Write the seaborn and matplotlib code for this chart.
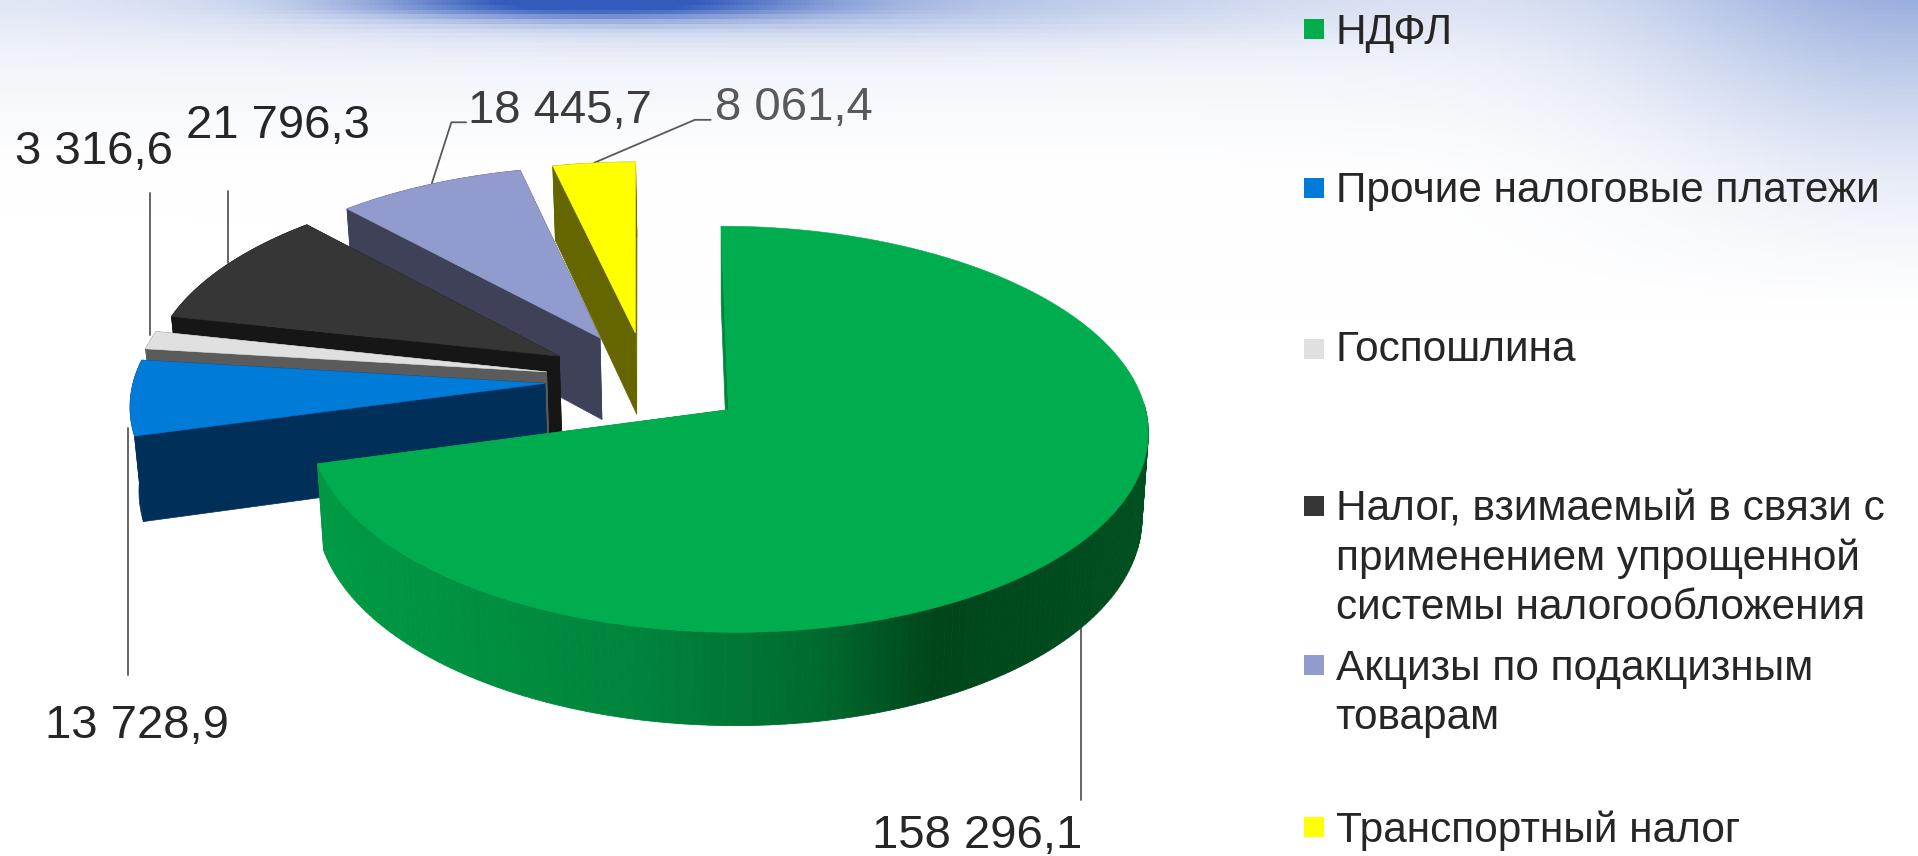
import numpy as np
import seaborn as sns
import matplotlib.pyplot as plt
from matplotlib.colors import LinearSegmentedColormap

sns.set_theme(style="white")
plt.rcParams["font.family"] = ["Liberation Sans", "DejaVu Sans"]

categories = ["НДФЛ", "Прочие налоговые платежи", "Госпошлина",
              "Налог, взимаемый в связи с\nприменением упрощенной\nсистемы налогообложения",
              "Акцизы по подакцизным\nтоварам", "Транспортный налог"]
values = [158296.1, 13728.9, 3316.6, 21796.3, 18445.7, 8061.4]
value_labels = ["158 296,1", "13 728,9", "3 316,6", "21 796,3", "18 445,7", "8 061,4"]

top_colors = ["#00ad4e", "#007bd8", "#e0e0e0", "#363636", "#919bcd", "#ffff00"]
side_colors = ["#00853c", "#00305a", "#5b5b5b", "#161616", "#3e4158", "#666600"]

# screen geometry in the 1568x700 space of the picture
X0, Y0, SX, SY = 595, 335, 341, 164.5
PERSP, DEPTH, NARROW, SKEW = 0.096, 69, 0.985, 6


def project(x, y, lower=False):
    f = 1 / (1 + PERSP * np.asarray(y))
    px = X0 + SX * np.asarray(x) * f - SKEW * np.asarray(y)
    py = Y0 - SY * np.asarray(y) * f
    if lower:
        px = X0 + (px - X0) * NARROW
        py = py + DEPTH * f
    return px, py


fig = plt.figure(figsize=(19.18, 8.56), dpi=100)
ax = fig.add_axes([0, 0, 1, 1])

wedges, _ = ax.pie(values, explode=[0.2475] * 6, startangle=90, counterclock=False,
                   center=(-0.195, 0.15), radius=1)
slices = [(w.center, w.r, w.theta1, w.theta2) for w in wedges]
for w in wedges:
    w.remove()

ax.set_aspect("auto")
ax.set_xlim(0, 1568)
ax.set_ylim(700, 0)
ax.axis("off")

# slide background: blue banner at the top fading into white
gx, gy = np.meshgrid(np.linspace(0, 1568, 400), np.linspace(0, 700, 180))
band = np.exp(-((gx - 480) / 170) ** 2) * np.exp(-(gy / 13) ** 2) * 0.8
wide = np.exp(-((gx - 620) / 400) ** 2) * np.exp(-(gy / 30) ** 2) * 0.28
haze = np.clip(1 - gy / 150, 0, 1) ** 1.4 * 0.12
corner = np.exp(-((gx - 1568) / 230) ** 2) * np.clip(1 - gy / 260, 0, 1) ** 1.4 * 0.36
amount = np.clip(band + wide + haze + corner, 0, 1)
bg = np.dstack([1 - amount * 0.8, 1 - amount * 0.64, 1 - amount * 0.26])
ax.imshow(bg, extent=(0, 1568, 700, 0), aspect="auto", zorder=0)

green_side = LinearSegmentedColormap.from_list(
    "green_side",
    [(0, "#009a44"), (0.38, "#00843c"), (0.6, "#006a2e"), (0.74, "#00451c"), (1, "#004f20")])

# back to front: last slice first, the big green one on top
for i in [5, 4, 3, 2, 1, 0]:
    (cx, cy), r, t1, t2 = slices[i]
    ang = np.radians(np.linspace(t1, t2, 240))
    ex = cx + r * np.cos(ang)
    ey = cy + r * np.sin(ang)

    # cut faces
    for ax_x, ax_y in [(ex[0], ey[0]), (ex[-1], ey[-1])]:
        ux, uy = project(np.array([cx, ax_x]), np.array([cy, ax_y]))
        lx, ly = project(np.array([cx, ax_x]), np.array([cy, ax_y]), lower=True)
        ax.fill(np.r_[ux, lx[::-1]], np.r_[uy, ly[::-1]], color=side_colors[i], lw=0.5, zorder=2 + 6 - i)

    # outer rim
    ux, uy = project(ex, ey)
    lx, ly = project(ex, ey, lower=True)
    if i == 0:
        for k in range(len(ex) - 1):
            if ey[k] > 0.02 and ey[k + 1] > 0.02:
                continue
            col = green_side(np.clip((ux[k] - 262) / (938 - 262), 0, 1))
            ax.fill([ux[k], ux[k + 1], lx[k + 1], lx[k]], [uy[k], uy[k + 1], ly[k + 1], ly[k]],
                    color=col, lw=0.6, zorder=2 + 6 - i)
    else:
        ax.fill(np.r_[ux, lx[::-1]], np.r_[uy, ly[::-1]], color=side_colors[i], lw=0.5, zorder=2 + 6 - i)

    # top face
    tx, ty = project(np.r_[cx, ex], np.r_[cy, ey])
    ax.fill(tx, ty, color=top_colors[i], lw=0.4, zorder=2.5 + 6 - i)

# value labels with leader lines
label_xy = [(799, 684), (112, 594), (77, 124), (227, 103), (458, 91), (649, 88)]
label_colors = ["#262626", "#262626", "#262626", "#262626", "#3c3c3c", "#595959"]
leaders = [
    ([884, 884], [513, 654]),
    ([105, 105], [350, 552]),
    ([123, 123], [158, 274]),
    ([186, 186], [156, 215]),
    ([381, 369, 353], [100, 100, 150]),
    ([581, 568, 486], [98, 98, 133]),
]
for (lx, ly), lab, col in zip(label_xy, value_labels, label_colors):
    ax.text(lx, ly, lab, ha="center", va="center", fontsize=34, color=col, zorder=20)
for xs, ys in leaders:
    ax.plot(xs, ys, color="#595959", lw=1.3, zorder=1.5)

# legend
legend_y = [27, 156, 286, 457, 567, 679]
square_y = [24, 154, 285, 414, 544, 676]
for lab, col, ty, sy in zip(categories, top_colors, legend_y, square_y):
    ax.scatter([1074], [sy], marker="s", s=190, color=col, linewidths=0, zorder=20)
    ax.text(1092, ty, lab, ha="left", va="center", fontsize=30.5, color="#262626",
            linespacing=1.28, zorder=20)

fig.savefig("out.png", dpi=100)
